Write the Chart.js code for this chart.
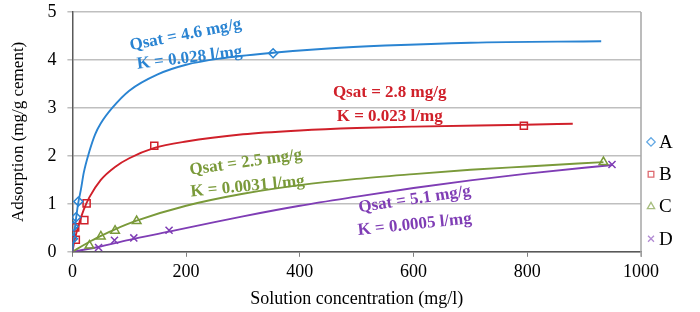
<!DOCTYPE html>
<html>
<head>
<meta charset="utf-8">
<script src="https://cdn.jsdelivr.net/npm/chart.js@4.4.1/dist/chart.umd.min.js"></script>
<style>
  html, body { margin: 0; padding: 0; background: #fff; }
  #wrap { width: 700px; height: 312px; }
</style>
</head>
<body>
<div id="wrap"><canvas id="isoChart"></canvas></div>
<script>
// measured points
const seriesNames = ['A', 'B', 'C', 'D'];
const pointsA = [[1, 0.27], [2, 0.53], [6.5, 0.72], [10.5, 1.05], [353, 4.14]];
const pointsB = [[6, 0.25], [5, 0.51], [21, 0.66], [25, 1.01], [144, 2.21], [794, 2.63]];
const pointsC = [[30, 0.13], [50, 0.32], [75, 0.44], [113, 0.64], [934, 1.87]];
const pointsD = [[46, 0.09], [74, 0.24], [108, 0.29], [170, 0.45], [949, 1.82]];

// fitted curves
const curveA = [[0, 0], [2, 0.25], [5, 0.56], [10, 1.0], [15, 1.3], [20, 1.65], [30, 2.1], [40, 2.45], [50, 2.68], [70, 3.0], [100, 3.36], [150, 3.7], [200, 3.9], [260, 4.03], [353, 4.15], [450, 4.24], [550, 4.3], [700, 4.36], [930, 4.39]];
const curveB = [[0, 0], [5, 0.3], [10, 0.52], [20, 0.88], [30, 1.14], [50, 1.5], [75, 1.77], [100, 1.95], [143, 2.16], [200, 2.3], [300, 2.45], [400, 2.53], [500, 2.58], [600, 2.61], [795, 2.65], [880, 2.67]];
const curveC = [[0, 0], [30, 0.21], [50, 0.33], [75, 0.47], [113, 0.65], [200, 0.96], [300, 1.21], [400, 1.39], [500, 1.52], [600, 1.62], [700, 1.71], [800, 1.78], [934, 1.87]];
const curveD = [[0, 0], [45, 0.1], [100, 0.25], [170, 0.42], [250, 0.62], [300, 0.74], [400, 0.96], [500, 1.15], [600, 1.33], [700, 1.49], [800, 1.63], [950, 1.81]];

const xTicks = [0, 200, 400, 600, 800, 1000];
const yTicks = [0, 1, 2, 3, 4, 5];

const colors = ['#2a84d2', '#d0202a', '#7a9a3a', '#7f3db5'];
const legendColors = ['#62a8e4', '#dd6a70', '#a7bd7f', '#b18ad3'];
const markers = ['rectRot', 'rect', 'triangle', 'crossRot'];

// fit labels: [text, x, y, angle in degrees, series index]
const fitLabels = [
    ['Qsat = 4.6 mg/g', 199, 4.52, -11, 0],
    ['K = 0.028 l/mg', 206, 4.04, -7, 0],
    ['Qsat = 2.8 mg/g', 558, 3.31, 0, 1],
    ['K = 0.023 l/mg', 558, 2.82, 0, 1],
    ['Qsat = 2.5 mg/g', 305, 1.86, -8, 2],
    ['K = 0.0031 l/mg', 308, 1.36, -5.5, 2],
    ['Qsat = 5.1 mg/g', 602, 1.09, -8.5, 3],
    ['K = 0.0005 l/mg', 602, 0.565, -6, 3]
];

const serif = '"Liberation Serif", "DejaVu Serif", serif';
const toXY = arr => arr.map(p => ({ x: p[0], y: p[1] }));

const curves = [curveA, curveB, curveC, curveD];
const points = [pointsA, pointsB, pointsC, pointsD];

const datasets = [];
seriesNames.forEach((name, i) => {
    datasets.push({
        label: name,
        data: toXY(points[i]),
        showLine: false,
        pointStyle: markers[i],
        pointRadius: i === 0 ? 4.5 : 5,
        pointBorderWidth: 1.5,
        borderColor: colors[i],
        backgroundColor: 'rgba(255,255,255,0)',
        pointBackgroundColor: 'rgba(255,255,255,0)',
        order: 1
    });
    datasets.push({
        label: name + ' fit',
        data: toXY(curves[i]),
        showLine: true,
        pointRadius: 0,
        borderColor: colors[i],
        borderWidth: 1.9,
        cubicInterpolationMode: 'monotone',
        order: 2
    });
});

const frame = {
    id: 'frame',
    afterDraw(chart) {
        const { ctx, chartArea, scales } = chart;
        ctx.save();
        // right border of plot area
        ctx.strokeStyle = '#a6a6a6';
        ctx.lineWidth = 1.5;
        ctx.beginPath();
        ctx.moveTo(chartArea.right, chartArea.top);
        ctx.lineTo(chartArea.right, chartArea.bottom + 5);
        ctx.stroke();

        // fit labels
        ctx.font = 'bold 17px ' + serif;
        ctx.textAlign = 'center';
        ctx.textBaseline = 'middle';
        fitLabels.forEach(l => {
            ctx.save();
            ctx.translate(scales.x.getPixelForValue(l[1]), scales.y.getPixelForValue(l[2]));
            ctx.rotate(l[3] * Math.PI / 180);
            ctx.fillStyle = colors[l[4]];
            ctx.fillText(l[0], 0, 0);
            ctx.restore();
        });

        // legend, stacked up from the bottom of the plot
        ctx.font = '19px ' + serif;
        ctx.textAlign = 'left';
        seriesNames.forEach((name, i) => {
            const y = chartArea.bottom - 13 - (seriesNames.length - 1 - i) * 32.3;
            const x = chartArea.right + 10;
            ctx.strokeStyle = legendColors[i];
            ctx.fillStyle = '#fff';
            ctx.lineWidth = 1.3;
            Chart.helpers.drawPoint(ctx, {
                pointStyle: markers[i],
                radius: i === 1 ? 4 : 4.2,
                borderWidth: 1.3,
                rotation: 0
            }, x, y);
            ctx.fillStyle = '#000';
            ctx.fillText(name, x + 8, y + 1);
        });
        ctx.restore();
    }
};

new Chart(document.getElementById('isoChart'), {
    type: 'scatter',
    data: { datasets: datasets },
    options: {
        responsive: true,
        maintainAspectRatio: false,
        animation: false,
        layout: { padding: { top: 0, right: 59, left: 8, bottom: 2 } },
        plugins: {
            legend: { display: false },
            tooltip: { enabled: false }
        },
        scales: {
            x: {
                type: 'linear',
                min: 0,
                max: 1000,
                afterBuildTicks: axis => { axis.ticks = xTicks.map(v => ({ value: v })); },
                grid: { drawOnChartArea: false, drawTicks: true, tickLength: 5, color: '#7f7f7f' },
                border: { color: '#595959', width: 1.5 },
                ticks: { color: '#000', font: { family: serif, size: 18 }, padding: 5, maxRotation: 0, callback: v => String(v) },
                title: { display: true, text: 'Solution concentration (mg/l)', color: '#000', font: { family: serif, size: 18 }, padding: { top: 0, bottom: 0 } }
            },
            y: {
                type: 'linear',
                min: 0,
                max: 5,
                afterBuildTicks: axis => { axis.ticks = yTicks.map(v => ({ value: v })); },
                // tick padding would otherwise push the plot top down
                afterFit: axis => { axis.paddingTop = 12; },
                grid: { color: '#bfbfbf', lineWidth: 1.5, drawTicks: true, tickLength: 5 },
                border: { color: '#595959', width: 1.5 },
                ticks: { color: '#000', font: { family: serif, size: 18 }, padding: 11, callback: v => String(v) },
                title: { display: true, text: 'Adsorption (mg/g cement)', color: '#000', font: { family: serif, size: 17 }, padding: { top: 0, bottom: 8 } }
            }
        }
    },
    plugins: [frame]
});
</script>
</body>
</html>
